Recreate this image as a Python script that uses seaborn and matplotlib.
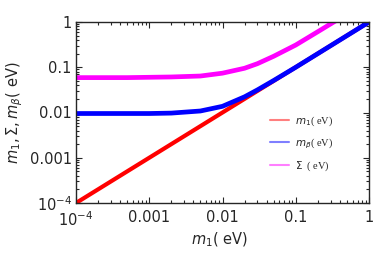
import numpy as np
import pandas as pd
import seaborn as sns
import matplotlib.pyplot as plt
from matplotlib.lines import Line2D
from matplotlib.ticker import FixedLocator, FixedFormatter, LogLocator, NullFormatter

# values (eV)
m1 = [1e-4, 2e-4, 5e-4, 1e-3, 2e-3, 5e-3, 0.01, 0.02, 0.03, 0.05, 0.1, 0.2, 0.3, 0.5, 1.0]
m_beta = [0.0095, 0.0095, 0.0095, 0.0095, 0.0097, 0.0108, 0.0137, 0.0222, 0.0316, 0.051,
          0.1, 0.2, 0.3, 0.5, 1.0]
sigma = [0.059, 0.059, 0.059, 0.060, 0.061, 0.064, 0.074, 0.095, 0.12, 0.175,
         0.31, 0.61, 0.91, 1.5, 3.0]

tick_vals = [1e-4, 1e-3, 1e-2, 1e-1, 1]
tick_labels = ["$10^{-4}$", "0.001", "0.01", "0.1", "1"]

df = pd.DataFrame({"m1": m1, "mb": m_beta, "sig": sigma})

sns.set_style("ticks")
plt.rcParams["font.family"] = ["DejaVu Sans"]
plt.rcParams["mathtext.fontset"] = "dejavusans"

fig = plt.figure(figsize=(3.76, 2.54), dpi=100)
ax = fig.add_axes([76 / 376, (254 - 203) / 254, (369 - 76) / 376, (203 - 22) / 254])

sns.lineplot(data=df, x="m1", y="m1", color="#ff0000", linewidth=3, ax=ax)
sns.lineplot(data=df, x="m1", y="mb", color="#0000ff", linewidth=3.4, ax=ax)
sns.lineplot(data=df, x="m1", y="sig", color="#ff00ff", linewidth=3.4, ax=ax)

ax.set_xscale("log")
ax.set_yscale("log")
ax.set_xlim(1e-4, 1)
ax.set_ylim(1e-4, 1)

for axis in (ax.xaxis, ax.yaxis):
    axis.set_major_locator(FixedLocator(tick_vals))
    axis.set_major_formatter(FixedFormatter(tick_labels))
    axis.set_minor_locator(LogLocator(base=10, subs=np.arange(2, 10)))
    axis.set_minor_formatter(NullFormatter())

ax.tick_params(which="both", direction="in", top=True, right=True, labelsize=10.5, width=0.8)
ax.tick_params(which="major", length=4)
ax.tick_params(which="minor", length=2)
ax.tick_params(axis="x", pad=5)
ax.tick_params(axis="y", pad=3)
for s in ax.spines.values():
    s.set_linewidth(1.0)

ax.set_xlabel("$m_1$( eV)", fontsize=10.5)
ax.set_ylabel(r"$m_1,\Sigma,m_\beta$( eV)", fontsize=10.5)
ax.xaxis.set_label_coords(0.49, -0.15)
ax.yaxis.set_label_coords(-0.175, 0.5)

handles = [
    Line2D([], [], color="#ff0000", alpha=0.5, linewidth=1.5),
    Line2D([], [], color="#0000ff", alpha=0.5, linewidth=1.5),
    Line2D([], [], color="#ff00ff", alpha=0.5, linewidth=1.5),
]
labels = ["$m_1$( eV)", r"$m_\beta$( eV)", r"$\Sigma$  ( eV)"]
ax.legend(handles, labels, loc="upper left", bbox_to_anchor=(0.63, 0.54), frameon=False,
          handlelength=1.8, labelspacing=0.8, handletextpad=0.6,
          prop={"family": "Liberation Serif", "size": 7.5})

fig.savefig("out.png", dpi=100)
